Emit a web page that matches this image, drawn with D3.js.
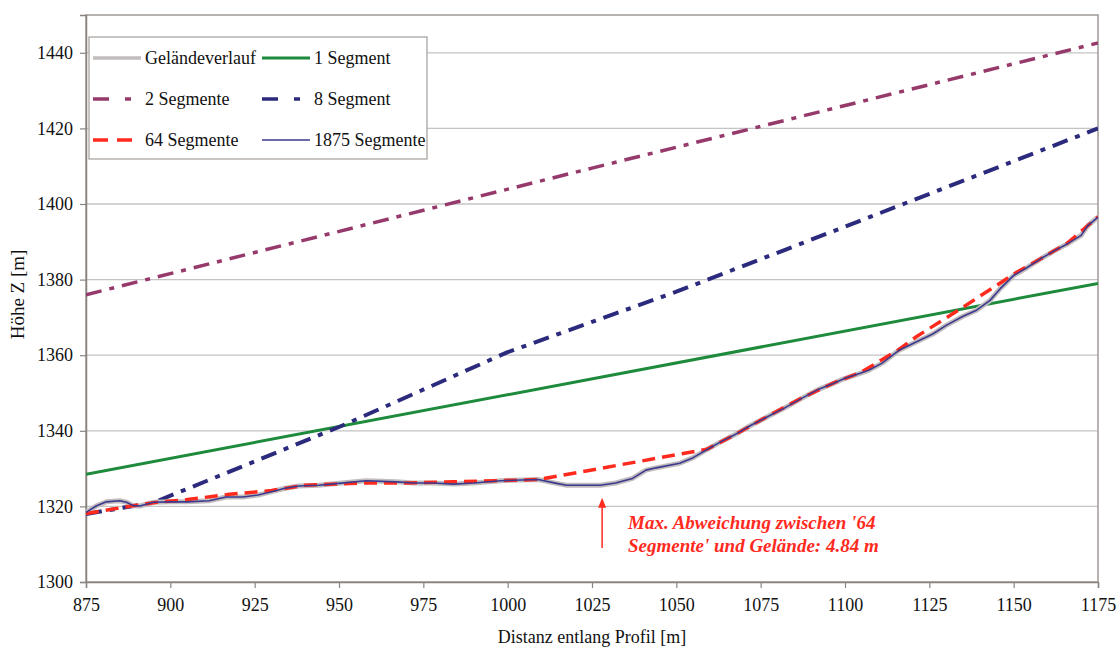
<!DOCTYPE html>
<html><head><meta charset="utf-8">
<script src="https://cdn.jsdelivr.net/npm/d3@7"></script>
<style>body{margin:0;background:#fff}svg{display:block}text{font-family:"Liberation Serif","Times New Roman",serif;fill:#111}</style>
</head><body><svg id="c" width="1117" height="648"></svg>
<script>
// ---- data ----
const xTicks = [875,900,925,950,975,1000,1025,1050,1075,1100,1125,1150,1175];
const yTicks = [1300,1320,1340,1360,1380,1400,1420,1440];
// terrain (Geländeverlauf / 1875 Segmente): distance, height
const terrainX = [875,878,881,885,887,889,891,895,900,905,911.5,916.5,921.5,926,930,934,938,944,950,958,967,972,978,984,990,998,1004,1009,1014.5,1017.5,1027.5,1032,1037,1041,1044,1051,1055,1059,1063,1067,1072,1077,1082,1087,1092,1096.5,1100,1104.5,1107,1111,1116,1122,1126,1130,1135,1139,1143,1146,1150,1154,1158,1162,1166,1170,1172,1175];
const terrainZ = [1318.4,1320.1,1321.2,1321.5,1321.1,1320.2,1320.1,1321.1,1321.2,1321.2,1321.5,1322.5,1322.5,1323.0,1323.9,1324.8,1325.4,1325.6,1326.1,1326.8,1326.5,1326.2,1326.2,1325.9,1326.2,1326.8,1327.0,1327.1,1326.1,1325.6,1325.6,1326.2,1327.4,1329.6,1330.2,1331.4,1332.9,1335.0,1337.0,1338.8,1341.4,1343.7,1346.0,1348.5,1350.9,1352.5,1353.9,1355.2,1356.0,1357.9,1361.3,1363.9,1365.6,1367.9,1370.3,1371.9,1374.5,1377.6,1381.1,1383.2,1385.5,1387.6,1389.5,1391.7,1394.3,1396.5];
// 64 Segmente
const seg64X = [875,889,896,905,917.5,930,940,958,970,984,1009,1059,1067,1077,1087,1097,1105,1116,1121,1135,1151,1158,1166,1175];
const seg64Z = [1318.1,1320.2,1321.1,1321.8,1323.2,1324.2,1325.6,1326.2,1326.2,1326.5,1327.1,1335.1,1338.8,1343.8,1348.6,1352.8,1355.6,1361.5,1364.8,1372.7,1382.0,1385.5,1389.7,1396.6];
// 8 Segment
const seg8X = [875,895,950,1000,1050,1100,1175];
const seg8Z = [1318.0,1321.0,1341.0,1360.8,1376.8,1394.0,1420.0];
// 2 Segmente
const seg2X = [875,1025,1175];
const seg2Z = [1376.0,1409.5,1442.6];
// 1 Segment
const seg1X = [875,1175];
const seg1Z = [1328.5,1379.0];
const legendLabels = ["Geländeverlauf","1 Segment","2 Segmente","8 Segment","64 Segmente","1875 Segmente"];
const annotation = ["Max. Abweichung zwischen '64","Segmente' und Gelände: 4.84 m"];
const annotX = 1028, annotZtop = 1322.3, annotZbot = 1309;

// ---- layout ----
const FONT = "'Liberation Serif','Times New Roman',serif";
const svg = d3.select("#c");
const L=86,R=1098,T=15,B=582;
const x = d3.scaleLinear().domain([875,1175]).range([L,R]);
const y = d3.scaleLinear().domain([1300,1450]).range([B,T]);

// grid
svg.append("g").selectAll("line").data(yTicks.filter(d=>d>1300)).join("line")
  .attr("x1",L).attr("x2",R).attr("y1",d=>y(d)).attr("y2",d=>y(d))
  .attr("stroke","#c4c4c4").attr("stroke-width",1.3);
// frame
svg.append("rect").attr("x",L).attr("y",T).attr("width",R-L).attr("height",B-T)
  .attr("fill","none").attr("stroke","#a09a96").attr("stroke-width",1.5);

// axes
const fmt = d3.format("d");
const yAx = svg.append("g").attr("transform",`translate(${L},0)`)
  .call(d3.axisLeft(y).tickValues(yTicks).tickFormat(fmt).tickSize(6).tickPadding(7));
const xAx = svg.append("g").attr("transform",`translate(0,${B})`)
  .call(d3.axisBottom(x).tickValues(xTicks).tickFormat(fmt).tickSize(6).tickPadding(10));
[yAx,xAx].forEach(a=>{
  a.attr("font-family",FONT);
  a.select(".domain").attr("stroke","#8a8480").attr("stroke-width",1.5);
  a.selectAll(".tick line").attr("stroke","#8a8480").attr("stroke-width",1.2);
  a.selectAll(".tick text").style("font-family",FONT).attr("font-size",18).attr("fill","#111");
});

svg.append("text").attr("x",(L+R)/2).attr("y",643).attr("text-anchor","middle")
  .attr("font-size",18).text("Distanz entlang Profil [m]");
svg.append("text").attr("transform",`translate(24,${(T+B)/2-4}) rotate(-90)`).attr("text-anchor","middle")
  .attr("font-size",19).text("Höhe Z [m]");

const line = d3.line().x(d=>x(d[0])).y(d=>y(d[1]));
const zip = (a,b)=>a.map((v,i)=>[v,b[i]]);
const clipId="clp";
svg.append("clipPath").attr("id",clipId).append("rect").attr("x",L).attr("y",T).attr("width",R-L).attr("height",B-T);
const g = svg.append("g").attr("clip-path",`url(#${clipId})`);

const styles = {
  terrain:{stroke:"#c2bcbc",w:5,dash:null},
  s1:{stroke:"#1e8a3c",w:3,dash:null},
  s2:{stroke:"#953a6a",w:3.5,dash:"16,8,5,8"},
  s8:{stroke:"#2c2a7c",w:4,dash:"16,8,5,8"},
  s64:{stroke:"#ff2a1e",w:3.5,dash:"13,7"},
  s1875:{stroke:"#3a3a90",w:1.6,dash:null}
};
function draw(data,s){
  g.append("path").datum(data).attr("d",line).attr("fill","none")
   .attr("stroke",s.stroke).attr("stroke-width",s.w).attr("stroke-dasharray",s.dash)
   .attr("stroke-linejoin","round");
}
draw(zip(seg2X,seg2Z),styles.s2);
draw(zip(seg1X,seg1Z),styles.s1);
draw(zip(seg8X,seg8Z),styles.s8);
draw(zip(terrainX,terrainZ),styles.terrain);
draw(zip(seg64X,seg64Z),styles.s64);
draw(zip(terrainX,terrainZ),styles.s1875);

// annotation arrow
const ax = x(annotX);
svg.append("line").attr("x1",ax).attr("x2",ax).attr("y1",y(annotZbot)).attr("y2",y(annotZtop)+8)
  .attr("stroke","#ff2a1e").attr("stroke-width",1.5);
svg.append("path").attr("d",`M${ax},${y(annotZtop)} L${ax-4},${y(annotZtop)+10} L${ax+4},${y(annotZtop)+10}Z`).attr("fill","#ff2a1e");
annotation.forEach((t,i)=>svg.append("text").attr("x",628).attr("y",529+i*23)
  .attr("font-size",19).attr("font-weight","bold").attr("font-style","italic")
  .style("fill","#ff2a1e").text(t));

// legend
const lg = svg.append("g");
lg.append("rect").attr("x",89).attr("y",37).attr("width",338).attr("height",122)
  .attr("fill","#fff").attr("stroke","#aaa5a2").attr("stroke-width",1.3);
const legStyles=[styles.terrain,styles.s1,styles.s2,styles.s8,styles.s64,styles.s1875];
const legDash=[null,null,"16,16,6,16","16,16,6,16","15,9",null];
legendLabels.forEach((t,i)=>{
  const col=i%2,row=Math.floor(i/2);
  const lx = col===0?93:262, ly=58+row*41;
  const s=legStyles[i];
  lg.append("line").attr("x1",lx).attr("x2",lx+48).attr("y1",ly).attr("y2",ly)
    .attr("stroke",s.stroke).attr("stroke-width",i===5?1.6:Math.min(s.w,3.5)).attr("stroke-dasharray",legDash[i]);
  lg.append("text").attr("x",lx+52).attr("y",ly+6).attr("font-size",18).text(t);
});
</script></body></html>
